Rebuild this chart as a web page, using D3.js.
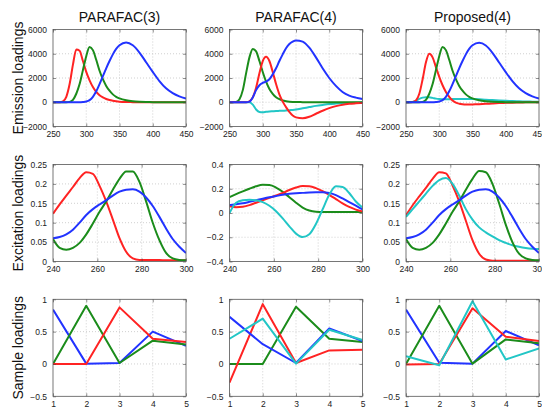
<!DOCTYPE html>
<html>
<head>
<meta charset="utf-8">
<script src="https://cdn.jsdelivr.net/npm/d3@7"></script>
<style>
  html, body { margin: 0; padding: 0; background: #fff; }
  svg { display: block; }
  text { font-family: "Liberation Sans", Arial, Helvetica, sans-serif; }
</style>
</head>
<body>
<svg id="chart" width="542" height="407"></svg>
<script>
// ---------------- DATA ----------------
const columnTitles = ["PARAFAC(3)", "PARAFAC(4)", "Proposed(4)"];
const rowLabels = ["Emission loadings", "Excitation loadings", "Sample loadings"];

// Emission wavelengths
const emX = [250,255,260,265,270,275,280,285,290,295,300,305,310,315,320,325,330,335,340,345,350,360,370,380,390,400,410,420,430,440,450];
const emTicksX = [250,300,350,400,450];
const emTicksY = [-2000,0,2000,4000,6000];

// PARAFAC(3) emission
const emP3Red   = [0,0,10,80,450,1500,3100,4350,4250,3400,2500,1800,1250,850,580,400,270,180,120,80,50,20,10,0,0,0,0,0,0,0,0];
const emP3Green = [0,0,0,0,0,30,200,700,1500,2650,3800,4550,4300,3500,2600,1900,1350,950,650,450,320,160,80,40,20,10,0,0,0,0,0];
const emP3Blue  = [0,0,0,0,0,0,0,0,0,20,60,180,450,900,1500,2150,2800,3400,3950,4400,4700,4930,4700,4100,3300,2500,1750,1150,750,480,300];

// PARAFAC(4) emission
const emP4Red   = [0,0,0,0,0,0,80,400,1200,2400,3400,3750,3400,2500,1500,650,50,-400,-800,-1100,-1250,-1320,-1200,-950,-700,-480,-320,-200,-130,-90,-60];
const emP4Green = [0,0,30,250,1000,2400,3700,4400,4200,3400,2500,1700,1100,700,420,250,150,90,50,30,20,10,0,0,0,0,0,0,0,0,0];
const emP4Blue  = [0,0,0,0,0,0,50,400,1000,1400,1600,1700,1900,2300,2800,3400,3950,4450,4800,5000,5100,5000,4500,3700,2800,2000,1350,850,550,380,270];
const emP4Cyan  = [0,0,0,0,0,0,0,-200,-600,-800,-820,-790,-760,-740,-720,-710,-700,-680,-650,-630,-600,-500,-400,-300,-220,-150,-110,-80,-60,-40,-30];

// Proposed(4) emission
const emPrRed   = [0,0,20,150,700,1900,3300,4000,3700,2900,2100,1400,850,450,150,-30,-120,-170,-190,-190,-180,-160,-130,-100,-70,-50,-35,-20,-10,-5,0];
const emPrGreen = [0,0,0,0,0,30,200,700,1500,2650,3800,4550,4300,3500,2600,1900,1350,950,650,450,320,160,80,40,20,10,0,0,0,0,0];
const emPrBlue  = [0,0,0,0,0,0,0,0,0,20,60,180,450,900,1500,2150,2800,3400,3950,4400,4700,4900,4680,4080,3280,2480,1740,1150,750,480,300];
const emPrCyan  = [0,0,30,120,280,380,420,410,360,300,260,240,240,250,260,265,270,270,270,265,260,240,210,180,150,120,100,80,65,50,40];

// Excitation wavelengths
const exX = [240,243,246,249,252,255,258,261,264,267,270,273,276,279,282,285,288,291,294,297,300];
const exTicksX = [240,260,280,300];
const exTicksYa = [0,0.05,0.1,0.15,0.2,0.25];
const exTicksYb = [-0.4,-0.2,0,0.2,0.4];

// PARAFAC(3) excitation
const exP3Red   = [0.123,0.147,0.170,0.192,0.215,0.230,0.226,0.195,0.155,0.108,0.060,0.025,0.008,0.004,0.004,0.004,0.004,0.003,0.003,0.003,0.003];
const exP3Green = [0.058,0.035,0.030,0.035,0.048,0.070,0.098,0.128,0.155,0.185,0.213,0.232,0.232,0.205,0.155,0.100,0.055,0.022,0.008,0.004,0.003];
const exP3Blue  = [0.060,0.063,0.070,0.082,0.100,0.120,0.135,0.147,0.158,0.170,0.180,0.185,0.186,0.180,0.165,0.143,0.115,0.085,0.058,0.038,0.022];

// PARAFAC(4) excitation
const exP4Red   = [0.055,0.048,0.052,0.065,0.085,0.105,0.125,0.145,0.165,0.190,0.210,0.222,0.220,0.205,0.180,0.150,0.115,0.080,0.050,0.028,0.012];
const exP4Green = [0.130,0.155,0.178,0.200,0.220,0.232,0.230,0.210,0.175,0.130,0.085,0.045,0.020,0.010,0.008,0.008,0.008,0.008,0.008,0.008,0.008];
const exP4Blue  = [0.065,0.072,0.080,0.092,0.105,0.118,0.130,0.140,0.150,0.158,0.163,0.166,0.170,0.172,0.172,0.165,0.148,0.120,0.090,0.060,0.030];
const exP4Cyan  = [0.000,0.085,0.105,0.110,0.105,0.090,0.060,0.015,-0.045,-0.110,-0.170,-0.198,-0.175,-0.090,0.030,0.150,0.220,0.215,0.165,0.095,0.045];

// Proposed(4) excitation
const exPrRed   = [0.119,0.145,0.168,0.190,0.213,0.230,0.227,0.196,0.155,0.105,0.055,0.020,0.005,0.002,0.002,0.002,0.002,0.002,0.002,0.002,0.002];
const exPrGreen = [0.058,0.035,0.030,0.035,0.048,0.070,0.098,0.128,0.155,0.185,0.213,0.233,0.230,0.200,0.150,0.095,0.050,0.020,0.008,0.004,0.003];
const exPrBlue  = [0.060,0.063,0.070,0.082,0.100,0.120,0.135,0.147,0.158,0.170,0.180,0.185,0.186,0.180,0.165,0.143,0.115,0.085,0.058,0.038,0.022];
const exPrCyan  = [0.115,0.135,0.155,0.175,0.195,0.210,0.215,0.200,0.170,0.135,0.108,0.088,0.075,0.065,0.055,0.048,0.042,0.038,0.035,0.033,0.032];

// Samples
const smX = [1,2,3,4,5];
const smTicksY = [-0.5,0,0.5,1];

const smP3Red   = [0,0,0.875,0.39,0.34];
const smP3Green = [0,0.90,0.015,0.36,0.30];
const smP3Blue  = [0.84,0.005,0.015,0.50,0.28];

const smP4Red   = [-0.29,0.925,0.015,0.21,0.22];
const smP4Green = [0,0,0.885,0.39,0.34];
const smP4Blue  = [0.73,0.305,0.015,0.55,0.355];
const smP4Cyan  = [0.39,0.70,0.005,0.53,0.37];

const smPrRed   = [-0.01,0,0.86,0.42,0.355];
const smPrGreen = [0,0.90,0.005,0.38,0.32];
const smPrBlue  = [0.84,0.02,0.005,0.51,0.29];
const smPrCyan  = [0.12,-0.02,0.97,0.07,0.24];

// ---------------- STYLE / LAYOUT ----------------
const COLORS = { red: "#ff2323", green: "#1b8c1b", blue: "#2233ff", cyan: "#22c6c6" };
const colLeft = [53, 229.5, 406];
const rowTop = [29.5, 164.5, 299.3];
const pw = 133, ph = 97;

const panels = [
  // row 0: emission
  { r:0, c:0, x:emX, xd:[250,450], yd:[-2000,6000], xt:emTicksX, yt:emTicksY, curve:true,
    series:[["red",emP3Red],["green",emP3Green],["blue",emP3Blue]] },
  { r:0, c:1, x:emX, xd:[250,450], yd:[-2000,6000], xt:emTicksX, yt:emTicksY, curve:true,
    series:[["cyan",emP4Cyan],["green",emP4Green],["red",emP4Red],["blue",emP4Blue]] },
  { r:0, c:2, x:emX, xd:[250,450], yd:[-2000,6000], xt:emTicksX, yt:emTicksY, curve:true,
    series:[["cyan",emPrCyan],["red",emPrRed],["green",emPrGreen],["blue",emPrBlue]] },
  // row 1: excitation
  { r:1, c:0, x:exX, xd:[240,300], yd:[0,0.25], xt:exTicksX, yt:exTicksYa, curve:true,
    series:[["red",exP3Red],["green",exP3Green],["blue",exP3Blue]] },
  { r:1, c:1, x:exX, xd:[240,300], yd:[-0.4,0.4], xt:exTicksX, yt:exTicksYb, curve:true,
    series:[["green",exP4Green],["red",exP4Red],["blue",exP4Blue],["cyan",exP4Cyan]] },
  { r:1, c:2, x:exX, xd:[240,300], yd:[0,0.25], xt:exTicksX, yt:exTicksYa, curve:true,
    series:[["red",exPrRed],["cyan",exPrCyan],["green",exPrGreen],["blue",exPrBlue]] },
  // row 2: samples
  { r:2, c:0, x:smX, xd:[1,5], yd:[-0.5,1], xt:smX, yt:smTicksY, curve:false,
    series:[["blue",smP3Blue],["green",smP3Green],["red",smP3Red]] },
  { r:2, c:1, x:smX, xd:[1,5], yd:[-0.5,1], xt:smX, yt:smTicksY, curve:false,
    series:[["green",smP4Green],["red",smP4Red],["blue",smP4Blue],["cyan",smP4Cyan]] },
  { r:2, c:2, x:smX, xd:[1,5], yd:[-0.5,1], xt:smX, yt:smTicksY, curve:false,
    series:[["blue",smPrBlue],["green",smPrGreen],["red",smPrRed],["cyan",smPrCyan]] },
];

const svg = d3.select("#chart");
const defs = svg.append("defs");
const fmt = v => {
  const s = String(+v.toFixed(4));
  return s.replace("-", "\u2212");
};

panels.forEach((p, i) => {
  const x0 = colLeft[p.c], y0 = rowTop[p.r];
  const xs = d3.scaleLinear().domain(p.xd).range([0, pw]);
  const ys = d3.scaleLinear().domain(p.yd).range([ph, 0]);
  const g = svg.append("g").attr("transform", `translate(${x0},${y0})`);

  defs.append("clipPath").attr("id", "clip" + i)
    .append("rect").attr("x", 0).attr("y", 0).attr("width", pw).attr("height", ph);

  // grid
  const grid = g.append("g").attr("class", "grid");
  grid.selectAll("line.gx").data(p.xt.slice(1, -1)).join("line")
    .attr("x1", d => xs(d)).attr("x2", d => xs(d)).attr("y1", 0).attr("y2", ph)
    .attr("stroke", "#c4c4c4").attr("stroke-width", 0.8).attr("stroke-dasharray", "1,2");
  grid.selectAll("line.gy").data(p.yt.slice(1, -1)).join("line")
    .attr("y1", d => ys(d)).attr("y2", d => ys(d)).attr("x1", 0).attr("x2", pw)
    .attr("stroke", "#c4c4c4").attr("stroke-width", 0.8).attr("stroke-dasharray", "1,2");

  // data lines
  const line = d3.line()
    .x((d, k) => xs(p.x[k]))
    .y(d => ys(d));
  if (p.curve) line.curve(d3.curveMonotoneX);
  const lg = g.append("g").attr("clip-path", `url(#clip${i})`);
  p.series.forEach(([col, vals]) => {
    lg.append("path").datum(vals)
      .attr("d", line)
      .attr("fill", "none")
      .attr("stroke", COLORS[col])
      .attr("stroke-width", 2)
      .attr("stroke-linejoin", "round");
  });

  // axes (inward ticks, labels outside)
  const axB = d3.axisBottom(xs).tickValues(p.xt).tickSize(-3).tickPadding(6).tickFormat(fmt);
  const axL = d3.axisLeft(ys).tickValues(p.yt).tickSize(-3).tickPadding(6).tickFormat(fmt);
  const axT = d3.axisTop(xs).tickValues(p.xt).tickSize(-3).tickFormat("");
  const axR = d3.axisRight(ys).tickValues(p.yt).tickSize(-3).tickFormat("");

  const styleAxis = sel => {
    sel.select(".domain").remove();
    sel.selectAll(".tick line").attr("stroke", "#444").attr("stroke-width", 0.6);
    sel.selectAll("text").attr("fill", "#222").style("font-size", "8.5px")
      .style("font-family", '"Liberation Sans", Arial, sans-serif');
  };
  g.append("g").attr("transform", `translate(0,${ph})`).call(axB).call(styleAxis)
    .selectAll("text").attr("dy", "0.55em");
  g.append("g").call(axL).call(styleAxis);
  g.append("g").call(axT).call(styleAxis);
  g.append("g").attr("transform", `translate(${pw},0)`).call(axR).call(styleAxis);

  // box
  g.append("rect").attr("x", 0).attr("y", 0).attr("width", pw).attr("height", ph)
    .attr("fill", "none").attr("stroke", "#555").attr("stroke-width", 0.8);
});

// column titles
columnTitles.forEach((t, c) => {
  svg.append("text").attr("x", colLeft[c] + pw / 2).attr("y", 22)
    .attr("text-anchor", "middle").style("font-size", "14px").attr("fill", "#111").text(t);
});

// row labels
rowLabels.forEach((t, r) => {
  const cy = rowTop[r] + ph / 2;
  svg.append("text").attr("transform", `translate(23,${cy}) rotate(-90)`)
    .attr("text-anchor", "middle").style("font-size", "14px").attr("fill", "#111").text(t);
});
</script>
</body>
</html>
